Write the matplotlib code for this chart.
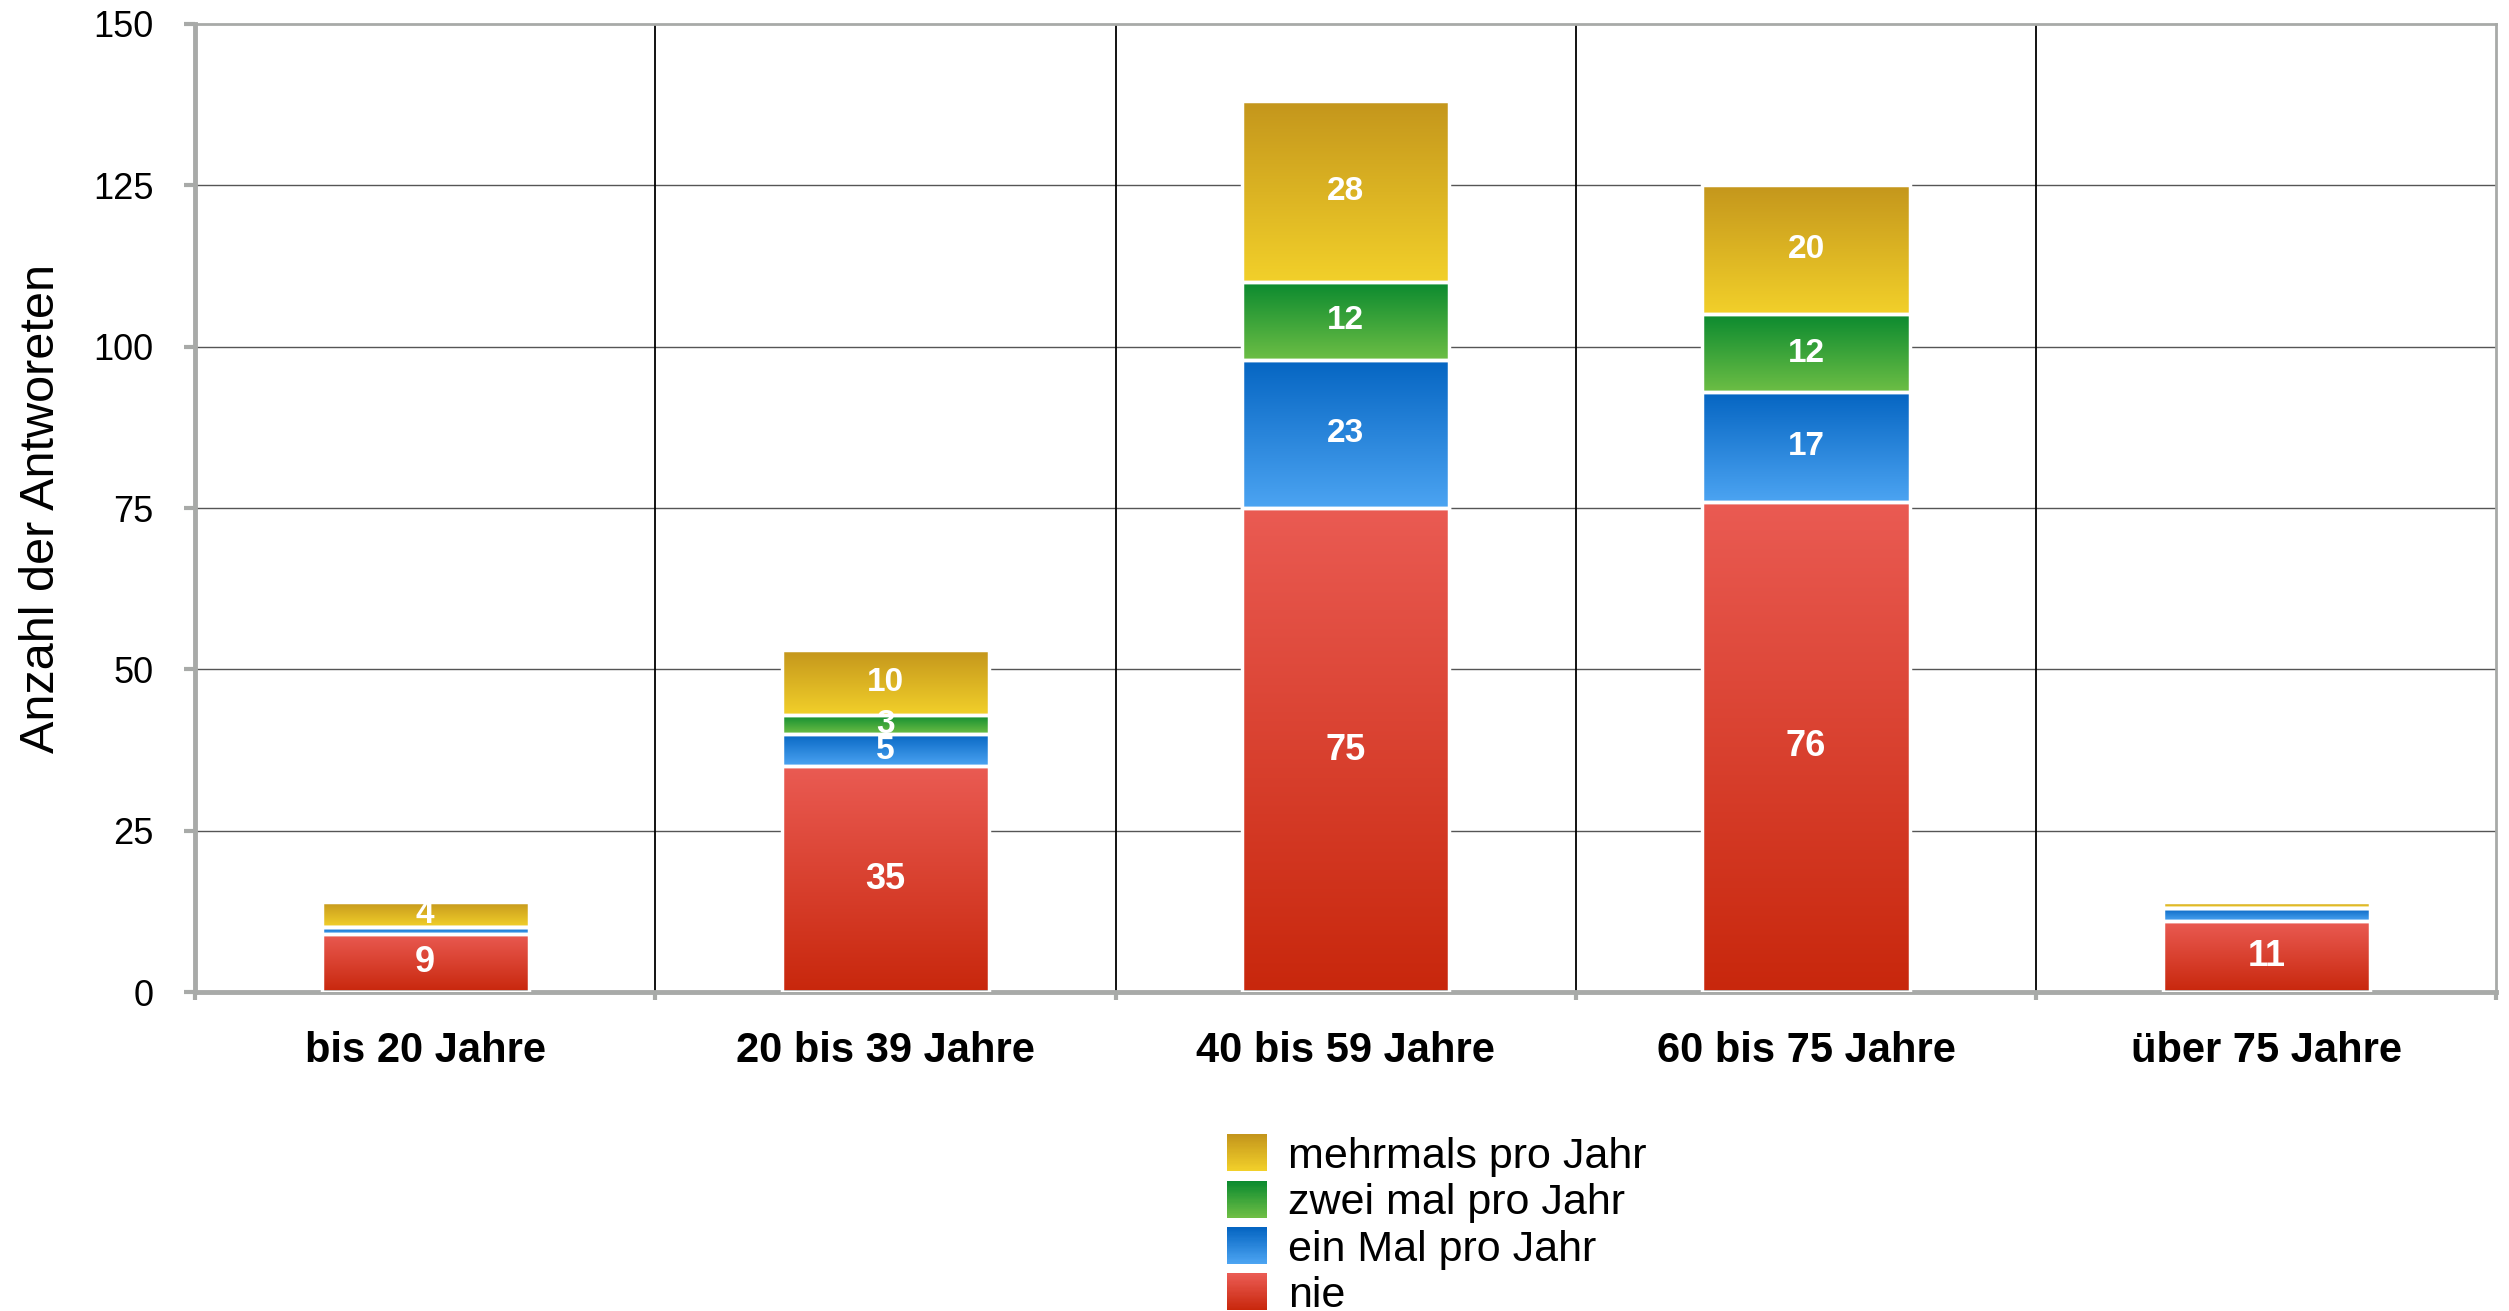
import numpy as np
import matplotlib.pyplot as plt
from matplotlib.colors import LinearSegmentedColormap, to_rgb
from matplotlib.patches import Patch, Rectangle
from matplotlib.legend_handler import HandlerBase

plt.rcParams['font.family'] = ['Liberation Sans', 'DejaVu Sans']

categories = ["bis 20 Jahre", "20 bis 39 Jahre", "40 bis 59 Jahre", "60 bis 75 Jahre", "über 75 Jahre"]
nie = [9, 35, 75, 76, 11]
ein_mal = [1, 5, 23, 17, 2]
zwei_mal = [0, 3, 12, 12, 0]
mehrmals = [4, 10, 28, 20, 1]

series = [("nie", nie, "#EA5B53", "#C8270C"),
          ("ein Mal pro Jahr", ein_mal, "#0565C2", "#4CA4F2"),
          ("zwei mal pro Jahr", zwei_mal, "#0B8A2F", "#6DBE45"),
          ("mehrmals pro Jahr", mehrmals, "#C4961C", "#F2D02A")]


class GradHandler(HandlerBase):
    # legend swatch drawn as stacked strips -> vertical gradient
    def __init__(self, c_top, c_bot):
        super().__init__()
        self.c_top = np.array(to_rgb(c_top))
        self.c_bot = np.array(to_rgb(c_bot))

    def create_artists(self, legend, orig_handle, xdescent, ydescent, width, height, fontsize, trans):
        n = 30
        out = []
        for i in range(n):
            t = i / (n - 1)
            c = self.c_bot * (1 - t) + self.c_top * t
            r = Rectangle((-xdescent, -ydescent + i * height / n), width, height / n + 0.3,
                          facecolor=c, edgecolor='none', transform=trans)
            out.append(r)
        return out


fig = plt.figure(figsize=(25.09, 13.11), dpi=100)
ax = fig.add_axes([0.0777, 0.2433, 0.9173, 0.7384])

x = np.arange(len(categories))
bottom = np.zeros(len(categories))
grad = np.linspace(0, 1, 256).reshape(-1, 1)

for name, vals, c_top, c_bot in series:
    vals = np.array(vals, dtype=float)
    bars = ax.bar(x, vals, 0.45, bottom=bottom, color='none', edgecolor='white',
                  linewidth=2.5, zorder=3)
    cmap = LinearSegmentedColormap.from_list(name, [c_bot, c_top])
    for p in bars:
        if p.get_height() <= 0:
            continue
        im = ax.imshow(grad, cmap=cmap, origin='lower', aspect='auto', zorder=2,
                       extent=[p.get_x(), p.get_x() + p.get_width(), p.get_y(), p.get_y() + p.get_height()])
        im.set_clip_path(p)
    size = 26 if name == "nie" else 24
    # very thin segments get no visible label
    labels = [str(int(v)) if v >= 3 else "" for v in vals]
    ax.bar_label(bars, labels=labels, label_type='center', color='white',
                 fontweight='bold', fontsize=size, zorder=4)
    bottom += vals

ax.set_xlim(-0.5, 4.5)
ax.set_ylim(0, 150)
ax.set_yticks([0, 25, 50, 75, 100, 125, 150])
ax.tick_params(axis='y', labelsize=26, length=8, width=3, color='#A8AAA8', pad=22)
ax.set_xticks(x)
ax.set_xticklabels(categories, fontsize=30, fontweight='bold')
ax.tick_params(axis='x', which='major', length=0, pad=28)
ax.set_xticks(np.arange(-0.5, 5, 1), minor=True)
ax.tick_params(axis='x', which='minor', length=6, width=3, color='#A8AAA8')

for yv in [25, 50, 75, 100, 125]:
    ax.axhline(yv, color='#555555', linewidth=1, zorder=1)
for xv in [0.5, 1.5, 2.5, 3.5]:
    ax.axvline(xv, color='black', linewidth=1.3, zorder=1)

for s in ['left', 'bottom']:
    ax.spines[s].set_color('#A8AAA8')
    ax.spines[s].set_linewidth(3.5)
for s in ['top', 'right']:
    ax.spines[s].set_color('#A8AAA8')
    ax.spines[s].set_linewidth(2)

ax.set_ylabel("Anzahl der Antworeten", fontsize=35)
ax.yaxis.set_label_coords(-0.057, 0.5)

handles = [Patch() for _ in series]
hmap = {h: GradHandler(s[2], s[3]) for h, s in zip(handles, series)}
names = [s[0] for s in series]
fig.legend(handles[::-1], names[::-1], handler_map=hmap, loc='upper left',
           bbox_to_anchor=(0.4803, 0.151), frameon=False, fontsize=31,
           handlelength=0.93, handleheight=0.93, labelspacing=0.1,
           handletextpad=0.5, borderpad=0)

fig.savefig("out.png", dpi=100)
